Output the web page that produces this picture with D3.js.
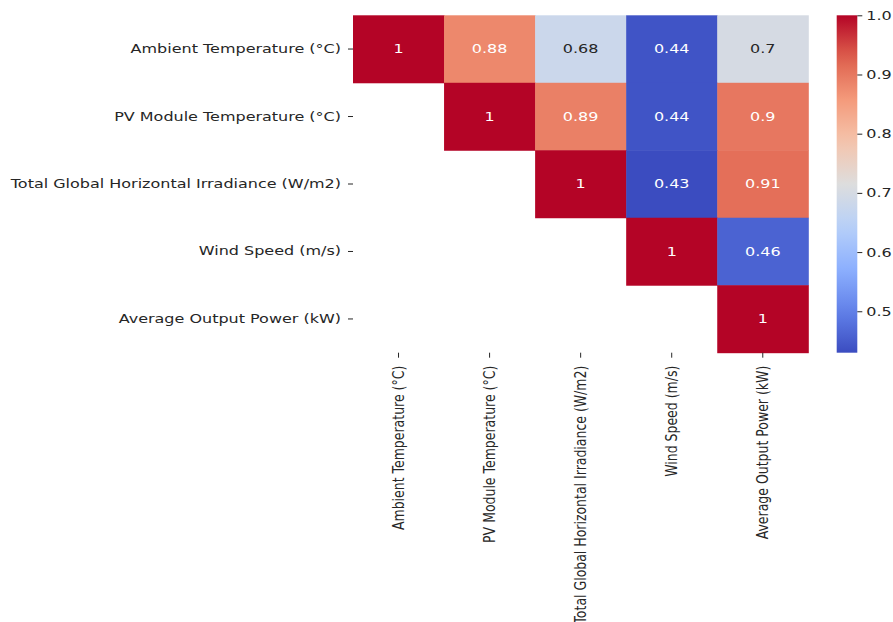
<!DOCTYPE html>
<html>
<head>
  <meta charset="utf-8">
  <title>Correlation Heatmap</title>
  <script src="https://cdn.jsdelivr.net/npm/d3@7"></script>
  <style>
    body { margin: 0; background: #fff; }
    svg text { font-family: "DejaVu Sans", sans-serif; fill: #262626; }
    .tick line { stroke: #262626; }
  </style>
</head>
<body>
  <svg width="893" height="622" class="heat"></svg>
  <script>
    // variables, in row/column order
    var labels = [
      'Ambient Temperature (°C)',
      'PV Module Temperature (°C)',
      'Total Global Horizontal Irradiance (W/m2)',
      'Wind Speed (m/s)',
      'Average Output Power (kW)'
    ];
    // upper triangle of the correlation matrix (null = masked)
    var row0 = [1, 0.88, 0.68, 0.44, 0.7];
    var row1 = [null, 1, 0.89, 0.44, 0.9];
    var row2 = [null, null, 1, 0.43, 0.91];
    var row3 = [null, null, null, 1, 0.46];
    var row4 = [null, null, null, null, 1];
    var rows = [row0, row1, row2, row3, row4];
    var cbarTicks = [0.5, 0.6, 0.7, 0.8, 0.9, 1.0];

    // matplotlib coolwarm (Moreland), sampled
    var coolwarm = ['#3b4cc0', '#6282ea', '#8db0fe', '#b8d0f9', '#dddddd',
                    '#f5c4ac', '#f49a7b', '#de604d', '#b40426'];

    var cells = [];
    rows.forEach(function(r, i) {
      r.forEach(function(v, j) {
        if (v !== null) cells.push({ row: labels[i], col: labels[j], value: v });
      });
    });

    var vmin = d3.min(cells, function(d) { return d.value; });
    var vmax = d3.max(cells, function(d) { return d.value; });
    var interp = d3.piecewise(d3.interpolateRgb, coolwarm);
    var color = function(v) { return interp((v - vmin) / (vmax - vmin)); };

    var sx = 1.28; // figure is stretched horizontally
    var fontSize = 12.5;

    var x = d3.scaleBand().domain(labels).range([353, 808.3]);
    var y = d3.scaleBand().domain(labels).range([15.3, 352.7]);

    var svg = d3.select('svg.heat');

    // luminance rule seaborn uses for annotation colour
    function lum(c) {
      var rgb = d3.rgb(c);
      var ch = [rgb.r, rgb.g, rgb.b].map(function(u) {
        u = u / 255;
        return u <= 0.03928 ? u / 12.92 : Math.pow((u + 0.055) / 1.055, 2.4);
      });
      return 0.2126 * ch[0] + 0.7152 * ch[1] + 0.0722 * ch[2];
    }

    var g = svg.append('g');
    g.selectAll('rect.cell')
     .data(cells)
     .enter()
     .append('rect')
     .attr('class', 'cell')
     .attr('x', function(d) { return x(d.col); })
     .attr('y', function(d) { return y(d.row); })
     .attr('width', x.bandwidth() + 0.5)
     .attr('height', y.bandwidth() + 0.5)
     .attr('fill', function(d) { return color(d.value); });

    var fmt = d3.format('.2~g');
    g.selectAll('text.annot')
     .data(cells)
     .enter()
     .append('text')
     .attr('class', 'annot')
     .attr('transform', function(d) {
       return 'translate(' + (x(d.col) + x.bandwidth() / 2) + ',' + (y(d.row) + y.bandwidth() / 2) + ') scale(' + sx + ',1)';
     })
     .attr('text-anchor', 'middle')
     .attr('dy', '0.35em')
     .style('font-size', fontSize + 'px')
     .style('fill', function(d) { return lum(color(d.value)) > 0.408 ? '#262626' : '#ffffff'; })
     .text(function(d) { return fmt(d.value); });

    // y axis
    var yAxis = svg.append('g')
      .attr('transform', 'translate(353,0)')
      .call(d3.axisLeft(y).tickSize(5).tickPadding(0));
    yAxis.select('.domain').remove();
    yAxis.selectAll('text')
      .attr('x', -12 / sx)
      .attr('transform', 'scale(' + sx + ',1)')
      .style('font-size', fontSize + 'px');

    // x axis, rotated labels
    var xAxis = svg.append('g')
      .attr('transform', 'translate(0,352.7)')
      .call(d3.axisBottom(x).tickSize(5).tickPadding(0));
    xAxis.select('.domain').remove();
    xAxis.selectAll('text')
      .attr('transform', 'scale(' + sx + ',1) rotate(-90)')
      .attr('x', -13)
      .attr('y', 0)
      .attr('dy', '0.35em')
      .style('text-anchor', 'end')
      .style('font-size', fontSize + 'px');

    // colour bar
    var cb = d3.scaleLinear().domain([vmin, vmax]).range([352.7, 15.3]);
    var defs = svg.append('defs');
    var grad = defs.append('linearGradient')
      .attr('id', 'cbar')
      .attr('x1', 0).attr('y1', 1).attr('x2', 0).attr('y2', 0);
    d3.range(0, 1.0001, 0.05).forEach(function(t) {
      grad.append('stop')
        .attr('offset', t)
        .attr('stop-color', interp(t));
    });
    svg.append('rect')
      .attr('x', 836.7)
      .attr('y', cb(vmax))
      .attr('width', 20.6)
      .attr('height', cb(vmin) - cb(vmax))
      .attr('fill', 'url(#cbar)');

    var cAxis = svg.append('g')
      .attr('transform', 'translate(857.3,0)')
      .call(d3.axisRight(cb).tickValues(cbarTicks).tickFormat(d3.format('.1f')).tickSize(5).tickPadding(0));
    cAxis.select('.domain').remove();
    cAxis.selectAll('text')
      .attr('x', 9 / sx)
      .attr('transform', 'scale(' + sx + ',1)')
      .style('font-size', fontSize + 'px');
  </script>
</body>
</html>
